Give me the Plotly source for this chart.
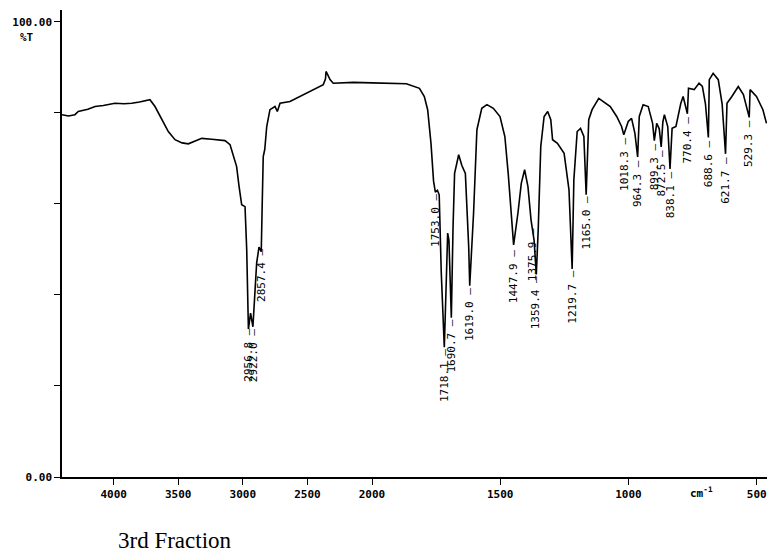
#espectro IR de la tercera fraccion
import plotly.graph_objects as go

#numeros de onda (cm-1) y transmitancia (%T) de la parte izquierda (4400 a 2000)
onda_izq = [4400, 4350, 4300, 4274, 4200, 4144, 4080, 3990, 3920, 3860, 3800, 3757, 3719,
            3680, 3628, 3577, 3525, 3470, 3422, 3370, 3318, 3241, 3138, 3099, 3074, 3048,
            3030, 3009, 2983, 2970, 2956.8, 2940, 2922, 2905, 2893, 2875, 2857.4, 2850,
            2842, 2830, 2815, 2790, 2751, 2733, 2712, 2635, 2557, 2454, 2403, 2377, 2360,
            2356, 2345, 2325, 2300, 2145, 2000]
trans_izq = [79.6, 79.3, 79.6, 80.3, 80.8, 81.4, 81.6, 82.1, 82.0, 82.1, 82.4, 82.7, 82.9,
             81.4, 78.5, 75.9, 74.1, 73.4, 73.2, 73.8, 74.4, 74.2, 73.9, 73.0, 70.4, 68.2,
             64.0, 59.8, 59.4, 50.0, 32.5, 36.0, 33.0, 40.4, 47.0, 50.5, 49.5, 60.0,
             70.4, 72.0, 77.0, 80.7, 81.4, 80.3, 82.1, 82.5, 83.6, 85.1, 85.8, 86.2, 87.5,
             89.1, 88.5, 87.3, 86.5, 86.7, 86.6]

#parte derecha (2000 a 450), la escala cambia en 2000
onda_der = [2000, 1943, 1866, 1815, 1796, 1783, 1770, 1760, 1753, 1745, 1738, 1730, 1718.1,
            1712, 1705, 1700, 1690.7, 1684, 1678, 1662, 1650, 1636, 1623, 1619, 1612, 1604,
            1591, 1572, 1552, 1527, 1501, 1482, 1469, 1456, 1447.9, 1431, 1418, 1405, 1392,
            1380, 1375.9, 1368, 1359.4, 1352, 1342, 1329, 1315, 1303, 1296, 1277, 1251, 1232,
            1219.7, 1213, 1200, 1187, 1174, 1165, 1155, 1142, 1116, 1097, 1071, 1046, 1027,
            1018.3, 1001, 988, 975, 964.3, 958, 943, 923, 906, 899.3, 890, 880, 872.5, 866,
            860, 847, 838.1, 830, 815, 796, 787, 770.4, 766, 744, 725, 712, 700, 688.6, 685,
            670, 650, 635, 621.7, 616, 597, 572, 552, 540, 529.3, 526, 501, 476, 462]
trans_der = [86.6, 86.5, 86.4, 85.4, 83.6, 80.7, 73.3, 65.0, 62.6, 63.0, 62.0, 45.0, 28.5,
             40.0, 53.6, 52.0, 35.0, 55.0, 66.7, 70.8, 68.5, 66.7, 50.6, 42.0, 50.0, 58.0,
             76.3, 81.0, 81.8, 81.0, 79.2, 74.8, 66.7, 58.0, 51.0, 58.0, 64.5, 67.5, 63.8,
             56.5, 55.0, 52.0, 44.5, 54.3, 72.6, 79.2, 80.3, 78.5, 74.1, 73.3, 71.1, 63.1,
             45.7, 65.3, 75.9, 76.6, 74.8, 62.0, 78.5, 80.7, 83.2, 82.5, 81.4, 79.2, 77.0,
             75.2, 78.1, 78.8, 75.5, 70.3, 79.2, 81.8, 81.4, 77.7, 73.9, 77.7, 76.5, 72.5, 78.0,
             79.6, 77.0, 67.7, 76.6, 77.0, 82.1, 83.6, 79.8, 85.4, 85.1, 86.5, 85.8, 82.0, 74.6, 87.3,
             88.7, 87.3, 82.0, 71.0, 82.1, 83.6, 85.8, 84.0, 81.0, 79.0, 85.1, 83.6, 80.7, 77.7]

#picos marcados (numero de onda, %T donde empieza la etiqueta)
picos = [2956.8, 2922.0, 2857.4, 1753.0, 1718.1, 1690.7, 1619.0, 1447.9, 1375.9, 1359.4,
         1219.7, 1165.0, 1018.3, 964.3, 899.3, 872.5, 838.1, 770.4, 688.6, 621.7, 529.3]
picos_t = [33.0, 33.0, 50.5, 62.6, 28.5, 35.0, 42.0, 50.3, 55.0, 44.5,
           45.7, 62.0, 75.0, 70.1, 73.7, 72.3, 67.5, 79.6, 74.4, 70.8, 78.8]

ticks_izq = [4000, 3500, 3000, 2500, 2000]
ticks_der = [1500, 1000, 500]

fuente = dict(family="DejaVu Sans Mono", size=11, color="black", weight="bold")

fig = go.Figure()
fig.add_trace(go.Scatter(x=onda_izq, y=trans_izq, mode="lines", xaxis="x", yaxis="y",
                         line=dict(color="black", width=1.6), showlegend=False))
fig.add_trace(go.Scatter(x=onda_der, y=trans_der, mode="lines", xaxis="x2", yaxis="y",
                         line=dict(color="black", width=1.6), showlegend=False))

#etiquetas de los picos, en vertical debajo de cada minimo
for onda, t in zip(picos, picos_t):
    fig.add_annotation(x=onda, y=t, xref="x" if onda > 2000 else "x2", yref="y",
                       text=f"{onda:.1f} —", textangle=-90, showarrow=False,
                       xanchor="center", yanchor="top",
                       font=dict(family="DejaVu Sans Mono", size=11, color="black"))

#la pagina tiene 8px de margen, por eso el ancho y alto son algo menores
ancho_plot = 705
corte = 310 / ancho_plot  #donde esta el 2000 en el ancho del grafico
eje_x = dict(showline=True, linecolor="black", linewidth=1.5, ticks="outside", ticklen=6,
             tickcolor="black", showgrid=False, zeroline=False, tickfont=fuente,
             automargin=False)
fig.update_layout(
    width=759, height=545,
    margin=dict(l=54, r=0, t=2, b=76),
    plot_bgcolor="white", paper_bgcolor="white",
    xaxis=dict(domain=[0, corte], range=[4400, 2000], tickvals=ticks_izq, anchor="y", **eje_x),
    xaxis2=dict(domain=[corte, 1], range=[2000, 460], tickvals=ticks_der, anchor="y", **eje_x),
    yaxis=dict(range=[0, 102.6], showline=True, linecolor="black", linewidth=1.5,
               ticks="outside", ticklen=6, tickcolor="black", showgrid=False, zeroline=False,
               tickvals=[0, 20, 40, 60, 80, 100], automargin=False,
               ticktext=["0.00", "", "", "", "", "100.00"], tickfont=fuente),
)
fig.add_annotation(x=(27 - 62) / ancho_plot, y=0.942, xref="paper", yref="paper", text="%T",
                   showarrow=False, font=fuente, xanchor="center", yanchor="middle")
fig.add_annotation(x=(701 - 62) / ancho_plot, y=-0.034, xref="paper", yref="paper",
                   text="cm<sup>-1</sup>", showarrow=False, font=fuente,
                   xanchor="center", yanchor="middle")
fig.add_annotation(x=(175 - 62) / ancho_plot, y=-0.137, xref="paper", yref="paper",
                   text="3rd Fraction", showarrow=False, xanchor="center", yanchor="middle",
                   font=dict(family="Liberation Serif", size=23, color="black"))

fig.write_html("out.html")
